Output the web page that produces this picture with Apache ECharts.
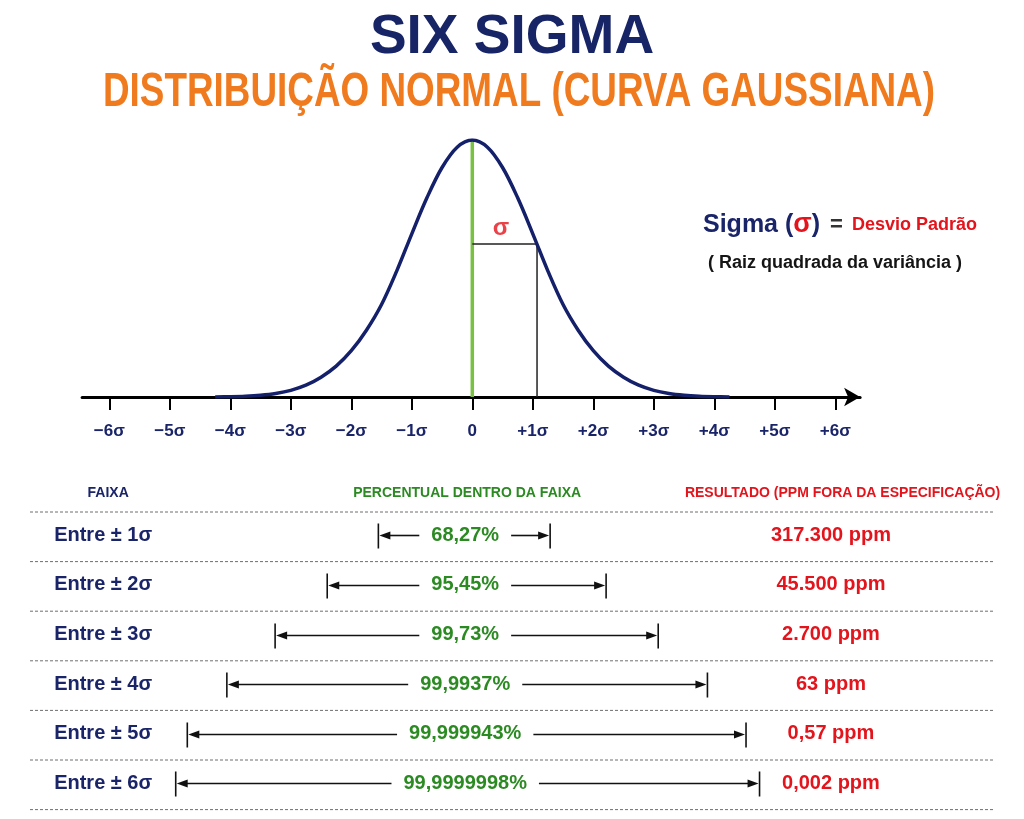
<!DOCTYPE html>
<html>
<head>
<meta charset="utf-8">
<title>Six Sigma</title>
<script src="https://cdn.jsdelivr.net/npm/echarts@6/dist/echarts.min.js"></script>
<style>
  html, body { margin: 0; padding: 0; background: #fff; }
  #chart { width: 1024px; height: 819px; }
</style>
</head>
<body>
<div id="chart"></div>
<script>
"use strict";

// curve (x in sigma, height relative to the peak)
var curveX = [-4.25, -4, -3.75, -3.5, -3.25, -3, -2.75, -2.5, -2.25, -2, -1.75, -1.5, -1.25, -1, -0.75, -0.5, -0.25,
    0, 0.25, 0.5, 0.75, 1, 1.25, 1.5, 1.75, 2, 2.25, 2.5, 2.75, 3, 3.25, 3.5, 3.75, 4, 4.25];
var curveY = [0, 0.001, 0.003, 0.007, 0.014, 0.026, 0.046, 0.077, 0.12, 0.18, 0.26, 0.36, 0.49, 0.635, 0.775, 0.893, 0.972,
    1, 0.972, 0.893, 0.775, 0.635, 0.49, 0.36, 0.26, 0.18, 0.12, 0.077, 0.046, 0.026, 0.014, 0.007, 0.003, 0.001, 0];
var tickLabels = ["−6σ", "−5σ", "−4σ", "−3σ", "−2σ", "−1σ", "0", "+1σ", "+2σ", "+3σ", "+4σ", "+5σ", "+6σ"];
var meanX = 0;
var sigmaX = 1.07;
var sigmaH = 0.595;

// table
var headers = ["FAIXA", "PERCENTUAL DENTRO DA FAIXA", "RESULTADO (PPM FORA DA ESPECIFICAÇÃO)"];
var rowLabels = ["Entre ± 1σ", "Entre ± 2σ", "Entre ± 3σ", "Entre ± 4σ", "Entre ± 5σ", "Entre ± 6σ"];
var rowPercents = ["68,27%", "95,45%", "99,73%", "99,9937%", "99,999943%", "99,9999998%"];
var rowPpm = ["317.300 ppm", "45.500 ppm", "2.700 ppm", "63 ppm", "0,57 ppm", "0,002 ppm"];
var arrowFrom = [36.1, 30.8, 25.4, 20.4, 16.3, 15.1];
var arrowTo = [53.9, 59.7, 65.1, 70.2, 74.2, 75.6];
var rowLines = [0, 1, 2, 3, 4, 5, 6];

var SANS = '"Liberation Sans", Arial, sans-serif';
var NAVY = "#1a2468";
var GREEN = "#2b8a22";
var RED = "#e3141c";
var SUBTITLE = "DISTRIBUIÇÃO NORMAL (CURVA GAUSSIANA)";

var chart = echarts.init(document.getElementById("chart"));

var ctx = document.createElement("canvas").getContext("2d");
function textWidth(t, font) {
    ctx.font = font;
    return ctx.measureText(t).width;
}

var curveData = curveX.map(function (x, i) { return [x, curveY[i]]; });

// table text layout (x in table units, y in row units)
var rowMid = 0.47;
var headerRow = -0.38;
var headerX = [8.1, 45.3, 84.2];
var headerColors = [NAVY, GREEN, RED];
var labelX = 2.5;
var pctX = 45.1;
var ppmX = 83.0;
var rowFont = "bold 20px " + SANS;

var tableTexts = [];
headers.forEach(function (h, k) {
    tableTexts.push({ value: [headerX[k], headerRow], text: h, font: "bold 14px " + SANS, color: headerColors[k], align: "center" });
});
rowLabels.forEach(function (t, i) {
    tableTexts.push({ value: [labelX, i + rowMid], text: t, font: rowFont, color: NAVY, align: "left" });
    tableTexts.push({ value: [pctX, i + rowMid], text: rowPercents[i], font: rowFont, color: GREEN, align: "center" });
    tableTexts.push({ value: [ppmX, i + rowMid], text: rowPpm[i], font: rowFont, color: RED, align: "center" });
});

function renderText(params, api) {
    var d = tableTexts[params.dataIndex];
    var p = api.coord([api.value(0), api.value(1)]);
    return {
        type: "text",
        x: p[0],
        y: p[1],
        style: { text: d.text, font: d.font, fill: d.color, align: d.align, verticalAlign: "middle" }
    };
}

function renderDash(params, api) {
    var a = api.coord([0, api.value(1)]);
    var b = api.coord([100, api.value(1)]);
    return {
        type: "line",
        shape: { x1: a[0], y1: a[1], x2: b[0], y2: b[1] },
        style: { stroke: "#6f6f6f", lineWidth: 1, lineDash: [3, 2] }
    };
}

function renderArrow(params, api) {
    var i = api.value(2);
    var a = api.coord([api.value(0), i + rowMid]);
    var b = api.coord([api.value(1), i + rowMid]);
    var c = api.coord([pctX, i + rowMid]);
    var gap = textWidth(rowPercents[i], rowFont) / 2 + 12;
    var y = Math.round(a[1]) + 0.5;
    var head = 11, hw = 4, barH = 12;
    var ln = { stroke: "#111", lineWidth: 1.6 };
    return {
        type: "group",
        children: [
            { type: "line", shape: { x1: a[0], y1: y - barH, x2: a[0], y2: y + barH + 1 }, style: ln },
            { type: "line", shape: { x1: b[0], y1: y - barH, x2: b[0], y2: y + barH + 1 }, style: ln },
            { type: "line", shape: { x1: a[0] + head, y1: y, x2: c[0] - gap, y2: y }, style: ln },
            { type: "line", shape: { x1: c[0] + gap, y1: y, x2: b[0] - head, y2: y }, style: ln },
            { type: "polygon", shape: { points: [[a[0] + 1, y], [a[0] + head + 1, y - hw], [a[0] + head + 1, y + hw]] }, style: { fill: "#111" } },
            { type: "polygon", shape: { points: [[b[0] - 1, y], [b[0] - head - 1, y - hw], [b[0] - head - 1, y + hw]] }, style: { fill: "#111" } }
        ]
    };
}

// the subtitle is a condensed face in the original: squeeze a bold sans to the same width
var subFont = "bold 48px " + SANS;
var subScale = 832 / textWidth(SUBTITLE, subFont);

var option = {
    animation: false,
    backgroundColor: "#fff",
    title: [
        {
            text: "SIX SIGMA",
            left: "center",
            top: 5,
            textStyle: { fontFamily: SANS, fontWeight: "bold", fontSize: 55, color: "#172567" }
        },
        {
            text: "{a|Sigma (}{b|σ}{a|)}{c|=}{d|Desvio Padrão}",
            left: 698,
            top: 205,
            textStyle: {
                rich: {
                    a: { fontFamily: SANS, fontWeight: "bold", fontSize: 25, color: NAVY, lineHeight: 30, verticalAlign: "middle" },
                    b: { fontFamily: SANS, fontWeight: "bold", fontSize: 27, color: RED, lineHeight: 30, verticalAlign: "middle" },
                    c: { fontFamily: SANS, fontWeight: "bold", fontSize: 22, color: "#333", lineHeight: 30, verticalAlign: "middle", padding: [0, 9, 0, 10] },
                    d: { fontFamily: SANS, fontWeight: "bold", fontSize: 18, color: RED, lineHeight: 30, verticalAlign: "middle" }
                }
            }
        },
        {
            text: "( Raiz quadrada da variância )",
            left: 703,
            top: 249,
            textStyle: { fontFamily: SANS, fontWeight: "bold", fontSize: 18, color: "#151515", lineHeight: 18 }
        }
    ],
    graphic: [
        {
            type: "text",
            x: 519,
            y: 93,
            scaleX: subScale,
            silent: true,
            style: { text: SUBTITLE, font: subFont, fill: "#f07a1e", align: "center", verticalAlign: "middle" }
        }
    ],
    grid: [
        { left: 82.1, top: 140, width: 778, height: 257 },
        { left: 109.3, top: 140, width: 726, height: 257 },
        { left: 30, top: 462.4, width: 965, height: 347.2 }
    ],
    xAxis: [
        {
            gridIndex: 0, type: "value", min: -6.45, max: 6.41,
            axisLine: { show: true, symbol: ["none", "arrow"], symbolSize: [14, 16], lineStyle: { color: "#000", width: 3 } },
            axisTick: { show: false }, axisLabel: { show: false }, splitLine: { show: false }
        },
        {
            gridIndex: 1, type: "value", min: -6, max: 6, interval: 1,
            axisLine: { show: false },
            axisTick: { show: true, length: 13, lineStyle: { color: "#000", width: 2 } },
            axisLabel: {
                margin: 26,
                color: NAVY, fontFamily: SANS, fontWeight: "bold", fontSize: 17,
                formatter: function (v) { return tickLabels[Math.round(v) + 6]; }
            },
            splitLine: { show: false }
        },
        { gridIndex: 2, type: "value", min: 0, max: 100, show: false }
    ],
    yAxis: [
        { gridIndex: 0, type: "value", min: 0, max: 1, show: false },
        { gridIndex: 1, type: "value", min: 0, max: 1, show: false },
        { gridIndex: 2, type: "value", min: -1, max: 6, inverse: true, show: false }
    ],
    series: [
        {
            name: "media", type: "line", xAxisIndex: 1, yAxisIndex: 1, z: 2,
            data: [[meanX, 0], [meanX, 1]],
            showSymbol: false,
            lineStyle: { color: "#7ac143", width: 3.5 }
        },
        {
            name: "sigma", type: "line", xAxisIndex: 1, yAxisIndex: 1, z: 2,
            data: [[meanX, sigmaH], [sigmaX, sigmaH], [sigmaX, 0]],
            showSymbol: false,
            lineStyle: { color: "#222", width: 1.5 }
        },
        {
            name: "curva", type: "line", xAxisIndex: 1, yAxisIndex: 1, z: 3,
            data: curveData,
            smooth: 0.35,
            showSymbol: false,
            lineStyle: { color: "#14206a", width: 3.5 }
        },
        {
            name: "sigmaLabel", type: "scatter", xAxisIndex: 1, yAxisIndex: 1,
            data: [[(meanX + sigmaX) / 2 - 0.06, sigmaH]],
            symbolSize: 0,
            label: {
                show: true, position: "top", distance: 4, formatter: "σ",
                color: RED, fontFamily: SANS, fontWeight: "bold", fontSize: 24
            }
        },
        {
            name: "linhas", type: "custom", xAxisIndex: 2, yAxisIndex: 2,
            data: rowLines.map(function (v) { return [0, v]; }),
            renderItem: renderDash, silent: true
        },
        {
            name: "setas", type: "custom", xAxisIndex: 2, yAxisIndex: 2,
            data: arrowFrom.map(function (v, i) { return [v, arrowTo[i], i]; }),
            renderItem: renderArrow, silent: true
        },
        {
            name: "textos", type: "custom", xAxisIndex: 2, yAxisIndex: 2,
            data: tableTexts.map(function (d) { return d.value; }),
            renderItem: renderText, silent: true
        }
    ]
};

chart.setOption(option);
</script>
</body>
</html>
